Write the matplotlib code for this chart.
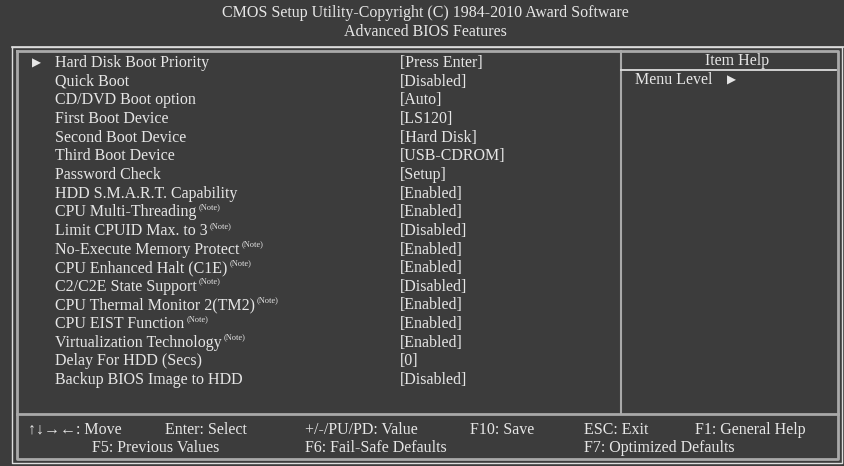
import matplotlib
matplotlib.use('Agg')
from matplotlib import pyplot as plt

# Screen content.
title_lines = ['CMOS Setup Utility-Copyright (C) 1984-2010 Award Software',
               'Advanced BIOS Features']
items = ['Hard Disk Boot Priority', 'Quick Boot', 'CD/DVD Boot option',
         'First Boot Device', 'Second Boot Device', 'Third Boot Device',
         'Password Check', 'HDD S.M.A.R.T. Capability', 'CPU Multi-Threading',
         'Limit CPUID Max. to 3', 'No-Execute Memory Protect',
         'CPU Enhanced Halt (C1E)', 'C2/C2E State Support',
         'CPU Thermal Monitor 2(TM2)', 'CPU EIST Function',
         'Virtualization Technology', 'Delay For HDD (Secs)',
         'Backup BIOS Image to HDD']
values = ['[Press Enter]', '[Disabled]', '[Auto]', '[LS120]', '[Hard Disk]',
          '[USB-CDROM]', '[Setup]', '[Enabled]', '[Enabled]', '[Disabled]',
          '[Enabled]', '[Enabled]', '[Disabled]', '[Enabled]', '[Enabled]',
          '[Enabled]', '[0]', '[Disabled]']
has_note = [False] * 8 + [True] * 8 + [False] * 2
submenu = [True] + [False] * 17
footer_row1 = ['\u2191\u2193\u2192\u2190: Move', 'Enter: Select',
               '+/-/PU/PD: Value', 'F10: Save', 'ESC: Exit', 'F1: General Help']
footer_row2 = ['F5: Previous Values', 'F6: Fail-Safe Defaults',
               'F7: Optimized Defaults']

bg = '#3c3c3c'
fg = '#e6e6e6'
gray = '#a9a9a9'
white = '#dcdcdc'
serif = ['Liberation Serif', 'DejaVu Sans']
fs = 11.5

fig = plt.figure(figsize=(8.44, 4.66), dpi=100, facecolor=bg)
ax = fig.add_axes([0, 0, 1, 1])
ax.set_facecolor(bg)
ax.set_xlim(0, 844)
ax.set_ylim(466, 0)
ax.axis('off')

# Header.
ax.text(425, 13, title_lines[0], color=fg, family=serif, fontsize=fs,
        ha='center', va='center')
ax.text(425, 32, title_lines[1], color=fg, family=serif, fontsize=fs,
        ha='center', va='center')

# Frames.
ax.plot([12, 844], [46.5, 46.5], color=white, lw=1.2)
ax.plot([12, 12, 842, 842, 12], [46.5, 463, 463, 46.5, 46.5], color=white, lw=1.0)
ax.plot([16.5, 16.5, 838, 838, 16.5], [50.5, 459, 459, 50.5, 50.5], color=gray, lw=2.0)
ax.plot([16.5, 838], [414, 414], color=gray, lw=2.0)
ax.plot([621, 621], [50.5, 414], color=gray, lw=1.5)
ax.plot([621, 836], [70, 70], color=white, lw=1.3)

# Menu items.
y0, dy = 63, 18.65
for i, (name, val) in enumerate(zip(items, values)):
    y = y0 + i * dy
    if submenu[i]:
        ax.text(36, y, '\u25b6', color=fg, family='DejaVu Sans', fontsize=8.5,
                ha='center', va='center')
    t = ax.text(55, y, name, color=fg, family=serif, fontsize=fs, va='center')
    if has_note[i]:
        ax.annotate('(Note)', xy=(1, 0.82), xycoords=t, xytext=(1.5, 0),
                    textcoords='offset points', color=fg, family=serif,
                    fontsize=6, va='center', ha='left')
    ax.text(400, y, val, color=fg, family=serif, fontsize=fs, va='center')

# Item help panel.
ax.text(737, 61, 'Item Help', color=fg, family=serif, fontsize=fs,
        ha='center', va='center')
ax.text(635, 80, 'Menu Level', color=fg, family=serif, fontsize=fs, va='center')
ax.text(731, 80, '\u25b6', color=fg, family='DejaVu Sans', fontsize=8.5,
        ha='center', va='center')

# Footer.
x_row1 = [28, 165, 305, 470, 584, 695]
x_row2 = [92, 305, 584]
for x, s in zip(x_row1, footer_row1):
    ax.text(x, 430, s, color=fg, family=serif, fontsize=fs, va='center')
for x, s in zip(x_row2, footer_row2):
    ax.text(x, 448, s, color=fg, family=serif, fontsize=fs, va='center')

fig.savefig('out.png', dpi=100, facecolor=bg)
